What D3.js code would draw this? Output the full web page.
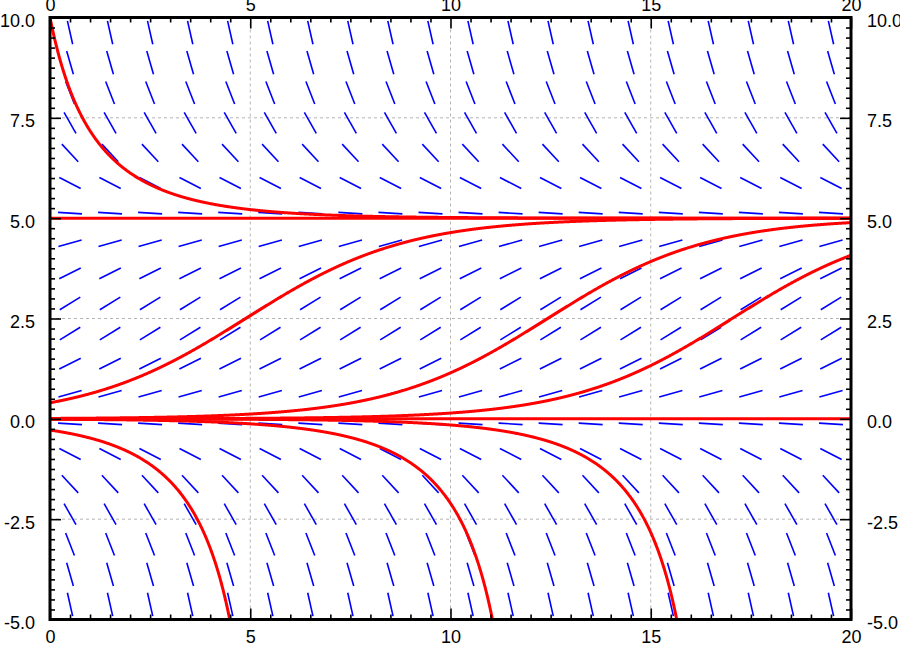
<!DOCTYPE html>
<html>
<head>
<meta charset="utf-8">
<script src="https://cdn.jsdelivr.net/npm/d3@7"></script>
<style>
  html, body { margin: 0; padding: 0; background: #fff; }
  svg { display: block; }
  text { font-family: "Liberation Sans", Arial, Helvetica, sans-serif; }
</style>
</head>
<body>
<div id="chart"></div>
<script>
// ---------- data ----------
// Logistic model dy/dt = rate * y * (1 - y / capacity)
const rate = [0.5];
const capacity = [5];
// direction-field sample points
const tGrid = [0.5, 1.5, 2.5, 3.5, 4.5, 5.5, 6.5, 7.5, 8.5, 9.5,
               10.5, 11.5, 12.5, 13.5, 14.5, 15.5, 16.5, 17.5, 18.5, 19.5];
const yGrid = [-4.625, -3.875, -3.125, -2.375, -1.625, -0.875, -0.125, 0.625, 1.375, 2.125,
               2.875, 3.625, 4.375, 5.125, 5.875, 6.625, 7.375, 8.125, 8.875, 9.625];
// initial values of solution curves (at t = 0)
const initialValues = [10, 5, 0.4, 0.01, 0.001, 0, -0.001, -0.01, -0.28];
// axes
const xDomain = [0, 20];
const yDomain = [-5, 10];
const xMajorTicks = [0, 5, 10, 15, 20];
const xMinorTicks = [0.5, 1, 1.5, 2, 2.5, 3, 3.5, 4, 4.5, 5.5, 6, 6.5, 7, 7.5, 8, 8.5, 9, 9.5,
                     10.5, 11, 11.5, 12, 12.5, 13, 13.5, 14, 14.5, 15.5, 16, 16.5, 17, 17.5, 18, 18.5, 19, 19.5];
const yMajorTicks = [-5, -2.5, 0, 2.5, 5, 7.5, 10];
const yMinorTicks = [-4.75, -4.5, -4.25, -4, -3.75, -3.5, -3.25, -3, -2.75, -2.25, -2, -1.75, -1.5, -1.25, -1, -0.75, -0.5, -0.25,
                     0.25, 0.5, 0.75, 1, 1.25, 1.5, 1.75, 2, 2.25, 2.75, 3, 3.25, 3.5, 3.75, 4, 4.25, 4.5, 4.75,
                     5.25, 5.5, 5.75, 6, 6.25, 6.5, 6.75, 7, 7.25, 7.75, 8, 8.25, 8.5, 8.75, 9, 9.25, 9.5, 9.75];
const xGridLines = [5, 10, 15];
const yGridLines = [-2.5, 0, 2.5, 5, 7.5];

// ---------- layout ----------
const W = 900, H = 646;
const pL = 50, pR = 851, pT = 17.5, pB = 619.5;

const svg = d3.select("#chart").append("svg").attr("width", W).attr("height", H);

const x = d3.scaleLinear().domain(xDomain).range([pL, pR]);
const y = d3.scaleLinear().domain(yDomain).range([pB, pT]);

const f = v => rate[0] * v * (1 - v / capacity[0]);

svg.append("defs").append("clipPath").attr("id", "plotclip")
  .append("rect").attr("x", pL).attr("y", pT).attr("width", pR - pL).attr("height", pB - pT);

// grid
const grid = svg.append("g");
grid.selectAll("line.gx").data(xGridLines).join("line").attr("class", "gx")
  .attr("x1", d => x(d)).attr("x2", d => x(d)).attr("y1", pT).attr("y2", pB)
  .attr("stroke", "#b4b4b4").attr("stroke-width", 1).attr("stroke-dasharray", "3,3");
grid.selectAll("line.gy").data(yGridLines).join("line").attr("class", "gy")
  .attr("y1", d => y(d)).attr("y2", d => y(d)).attr("x1", pL).attr("x2", pR)
  .attr("stroke", "#b4b4b4").attr("stroke-width", 1).attr("stroke-dasharray", "3,3");

// direction field
const half = 0.3;
const field = [];
tGrid.forEach(t => yGrid.forEach(v => field.push({ t, v })));
svg.append("g").attr("clip-path", "url(#plotclip)")
  .selectAll("line").data(field).join("line")
  .each(function (d) {
    const s = f(d.v);
    const n = Math.sqrt(1 + s * s);
    const dx = half / n, dy = half * s / n;
    d3.select(this)
      .attr("x1", x(d.t - dx)).attr("y1", y(d.v - dy))
      .attr("x2", x(d.t + dx)).attr("y2", y(d.v + dy));
  })
  .attr("stroke", "#0000ff").attr("stroke-width", 1.6);

// solution curves (RK4)
function solve(y0) {
  const h = 0.01;
  let t = 0, v = y0;
  const pts = [[t, v]];
  while (t < xDomain[1] - 1e-9) {
    const k1 = f(v), k2 = f(v + h * k1 / 2), k3 = f(v + h * k2 / 2), k4 = f(v + h * k3);
    v += h * (k1 + 2 * k2 + 2 * k3 + k4) / 6;
    t += h;
    pts.push([t, v]);
    if (v < yDomain[0] - 1) break;
  }
  return pts;
}
const line = d3.line().x(d => x(d[0])).y(d => y(d[1]));
svg.append("g").attr("clip-path", "url(#plotclip)")
  .selectAll("path").data(initialValues.map(solve)).join("path")
  .attr("d", line).attr("fill", "none").attr("stroke", "#ff0000").attr("stroke-width", 3);

// axes (ticks inward)
const fmtY = d => d.toFixed(1);
function styleAxis(g) {
  g.select(".domain").remove();
  g.selectAll("line").attr("stroke", "#000").attr("stroke-width", 1.6);
  g.selectAll("text").attr("font-size", 18).attr("fill", "#000")
    .attr("font-family", "'Liberation Sans', Arial, Helvetica, sans-serif");
}
// minor
svg.append("g").attr("transform", `translate(0,${pB})`)
  .call(d3.axisBottom(x).tickValues(xMinorTicks).tickSize(-5).tickFormat("")).call(styleAxis);
svg.append("g").attr("transform", `translate(0,${pT})`)
  .call(d3.axisTop(x).tickValues(xMinorTicks).tickSize(-5).tickFormat("")).call(styleAxis);
svg.append("g").attr("transform", `translate(${pL},0)`)
  .call(d3.axisLeft(y).tickValues(yMinorTicks).tickSize(-5).tickFormat("")).call(styleAxis);
svg.append("g").attr("transform", `translate(${pR},0)`)
  .call(d3.axisRight(y).tickValues(yMinorTicks).tickSize(-5).tickFormat("")).call(styleAxis);
// major
svg.append("g").attr("transform", `translate(0,${pB})`)
  .call(d3.axisBottom(x).tickValues(xMajorTicks).tickSizeInner(-11).tickSizeOuter(0).tickPadding(10.5).tickFormat(d => String(d)))
  .call(styleAxis);
svg.append("g").attr("transform", `translate(0,${pT})`)
  .call(d3.axisTop(x).tickValues(xMajorTicks).tickSizeInner(-11).tickSizeOuter(0).tickPadding(6.5).tickFormat(d => String(d)))
  .call(styleAxis);
svg.append("g").attr("transform", `translate(${pL},0)`)
  .call(d3.axisLeft(y).tickValues(yMajorTicks).tickSizeInner(-11).tickSizeOuter(0).tickPadding(15).tickFormat(fmtY))
  .call(styleAxis).call(g => g.selectAll("text").attr("dy", "0.5em"));
svg.append("g").attr("transform", `translate(${pR},0)`)
  .call(d3.axisRight(y).tickValues(yMajorTicks).tickSizeInner(-11).tickSizeOuter(0).tickPadding(16).tickFormat(fmtY))
  .call(styleAxis).call(g => g.selectAll("text").attr("dy", "0.5em"));

// frame
svg.append("rect").attr("x", pL).attr("y", pT).attr("width", pR - pL).attr("height", pB - pT)
  .attr("fill", "none").attr("stroke", "#000").attr("stroke-width", 3);
</script>
</body>
</html>
